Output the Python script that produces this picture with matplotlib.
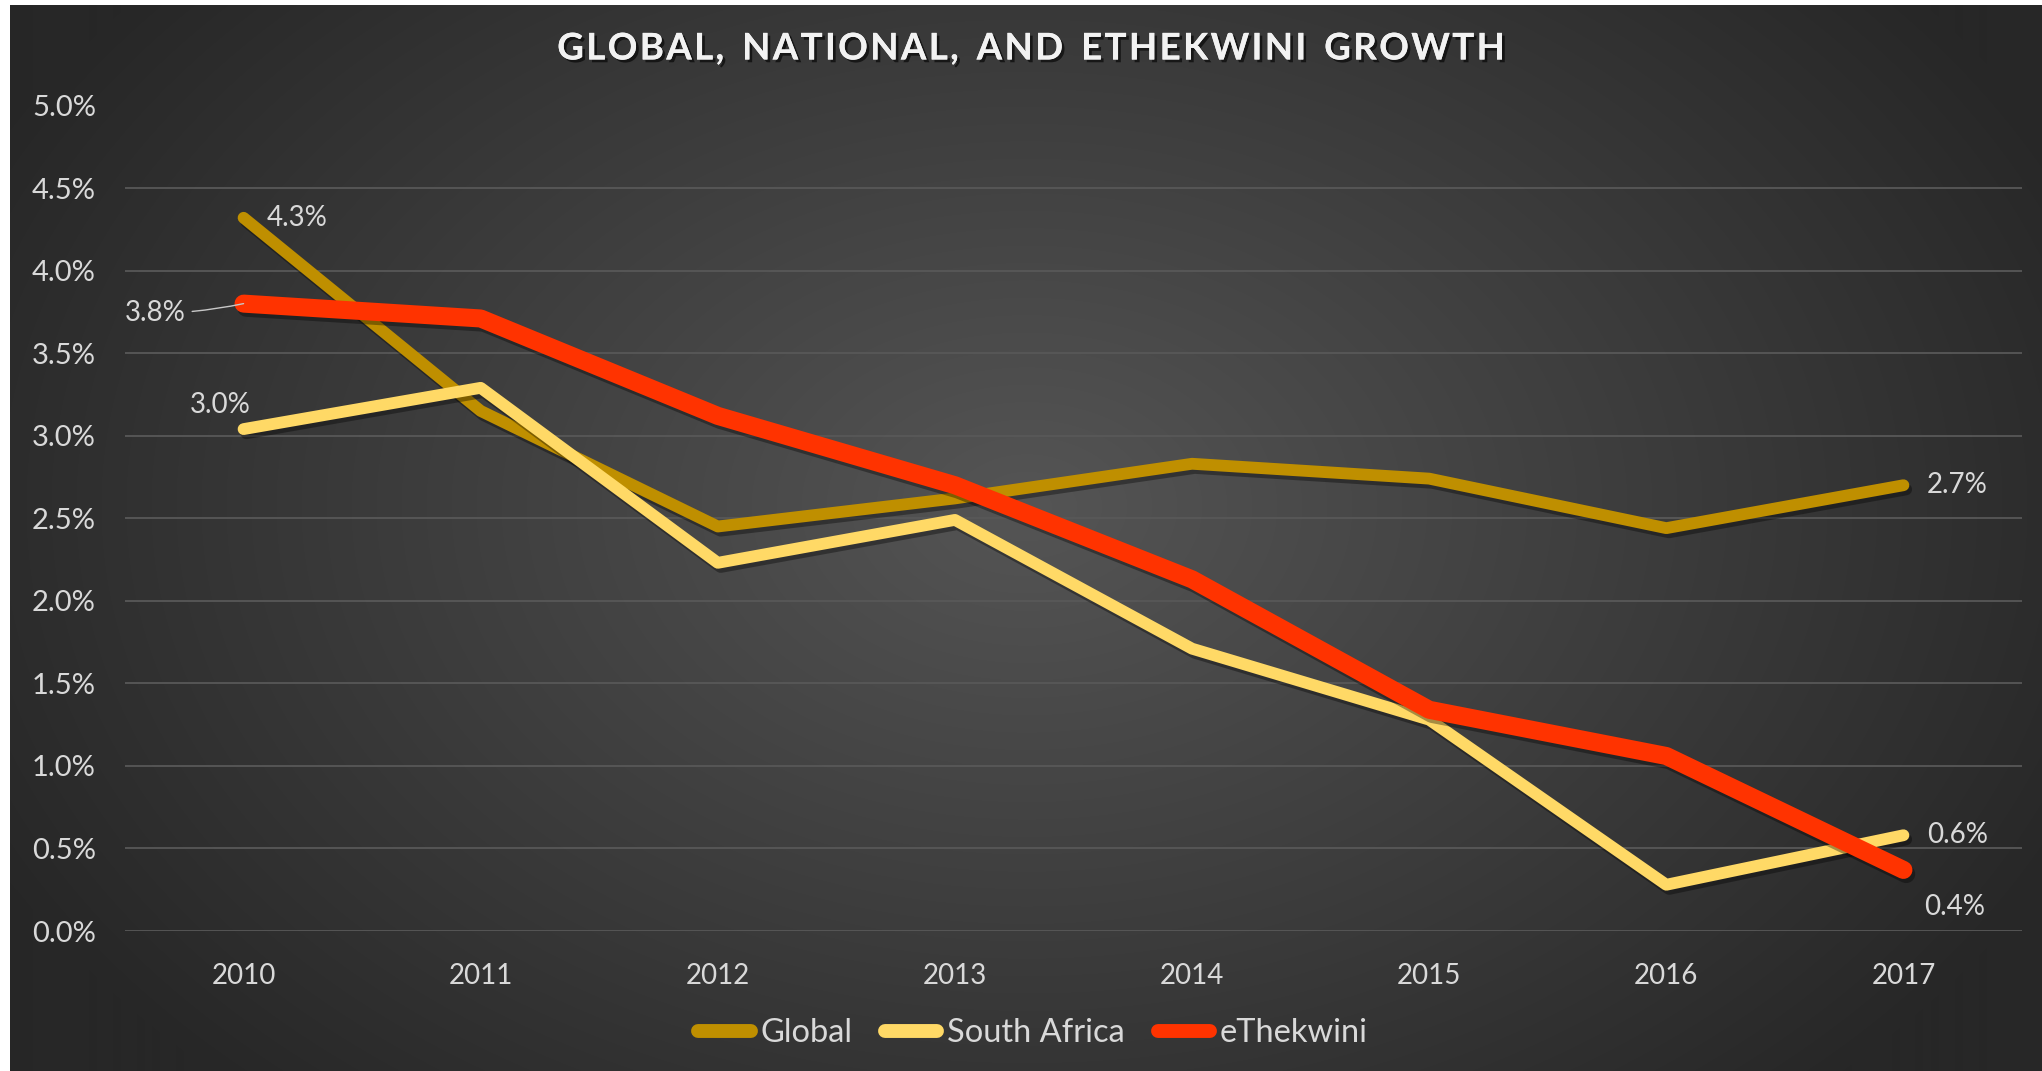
import numpy as np
import matplotlib
matplotlib.use("Agg")
import matplotlib.pyplot as plt
from matplotlib import patheffects as pe
from matplotlib.ticker import FuncFormatter, MultipleLocator

years = ["2010", "2011", "2012", "2013", "2014", "2015", "2016", "2017"]
global_growth = [4.32, 3.15, 2.45, 2.62, 2.83, 2.74, 2.44, 2.70]
south_africa_growth = [3.04, 3.29, 2.23, 2.49, 1.71, 1.28, 0.28, 0.58]
ethekwini_growth = [3.80, 3.71, 3.12, 2.70, 2.13, 1.34, 1.06, 0.37]
series_names = ["Global", "South Africa", "eThekwini"]

TEXT = "#d9d9d9"
FONT = "Lato"
W, H, DPI = 2042, 1071, 100

fig = plt.figure(figsize=(W / DPI, H / DPI), dpi=DPI, facecolor="white")

# radial dark-grey backdrop, lighter toward the middle
bg = fig.add_axes([10 / W, 0, 1 - 10 / W, 1 - 5 / H])
bg.set_axis_off()
yy, xx = np.mgrid[0:H - 5, 0:W - 10]
cx, cy = 0.5 * (W - 10), 0.47 * (H - 5)
r = np.sqrt(((xx - cx) / 1150.0) ** 2 + ((yy - cy) / 800.0) ** 2)
r = np.clip(r, 0, 1)
center, edge = 0x55 / 255, 0x27 / 255
shade = center - (center - edge) * r
img = np.dstack([shade, shade, shade])
bg.imshow(img, aspect="auto", extent=[0, 1, 0, 1], origin="upper")
bg.set_xlim(0, 1)
bg.set_ylim(0, 1)

ax = fig.add_axes([125 / W, (H - 931) / H, (2022 - 125) / W, (931 - 105.5) / H])
ax.set_facecolor("none")
x = np.arange(len(years))

shadow = [pe.SimpleLineShadow(offset=(2, -3), shadow_color="black", alpha=0.35), pe.Normal()]
styles = [
    (global_growth, "#bf8f00", 8.5),
    (south_africa_growth, "#ffd966", 8.5),
    (ethekwini_growth, "#ff3300", 13),
]
lines = []
for (vals, col, lw), name in zip(styles, series_names):
    ln, = ax.plot(x, vals, color=col, lw=lw, solid_capstyle="round",
                  solid_joinstyle="round", label=name, path_effects=shadow, zorder=3)
    lines.append(ln)

ax.set_xlim(-0.5, len(years) - 0.5)
ax.set_ylim(0, 5.0)
ax.yaxis.set_major_locator(MultipleLocator(0.5))
ax.yaxis.set_major_formatter(FuncFormatter(lambda v, p: f"{v:.1f}%"))
ax.set_xticks(x)
ax.set_xticklabels(years)
ax.grid(axis="y", color="#585858", lw=1.3, zorder=0)
ax.grid(axis="x", visible=False)
for s in ax.spines.values():
    s.set_visible(False)
ax.tick_params(axis="y", length=0, pad=21, labelsize=21, labelcolor=TEXT)
ax.tick_params(axis="x", length=0, pad=23, labelsize=20, labelcolor=TEXT)
for t in ax.get_xticklabels() + ax.get_yticklabels():
    t.set_fontfamily(FONT)
    t.set_fontweight("normal")

label_kw = dict(textcoords="offset points", fontsize=20, color=TEXT,
                family=FONT, fontweight="normal", va="center", zorder=5)

def lab(i, vals, dx, dy, ha, **extra):
    ax.annotate(f"{vals[i]:.1f}%", (x[i], vals[i]), xytext=(dx, dy), ha=ha,
                **label_kw, **extra)

lab(0, global_growth, 17, 0, "left")
lab(0, ethekwini_growth, -42, -7, "right",
    arrowprops=dict(arrowstyle="-", color="#c8c8c8", lw=1.0, shrinkA=3, shrinkB=0,
                    connectionstyle="arc3,rad=0.05"))
lab(0, south_africa_growth, -17, 17, "center")
lab(7, global_growth, 17, 0, "left")
lab(7, south_africa_growth, 17, 0, "left")
lab(7, ethekwini_growth, 15, -27, "left")

title = "  ".join("\u200a".join(word) for word in
                  ["GLOBAL,", "NATIONAL,", "AND", "ETHEKWINI", "GROWTH"])
fig.text(1030 / W, 1 - 49 / H, title,
         ha="center", va="center", fontsize=26.5, fontweight="bold", color="#f2f2f2",
         family=[FONT, "DejaVu Sans"],
         path_effects=[pe.withSimplePatchShadow(offset=(2, -2), shadow_rgbFace="black", alpha=0.6),
                       pe.Normal()])

leg = fig.legend(handles=lines, labels=series_names, loc="center",
                 bbox_to_anchor=(1033 / W, 1 - 1033 / H), ncol=3, frameon=False,
                 handlelength=1.6, handletextpad=0.3, columnspacing=1.0,
                 prop=dict(family=FONT, size=23.5, weight="normal"))
for t in leg.get_texts():
    t.set_color(TEXT)
for h in leg.legend_handles:
    h.set_linewidth(10)
    h.set_solid_capstyle("round")
    h.set_path_effects([])

fig.savefig("out.png", dpi=DPI, facecolor="white")
